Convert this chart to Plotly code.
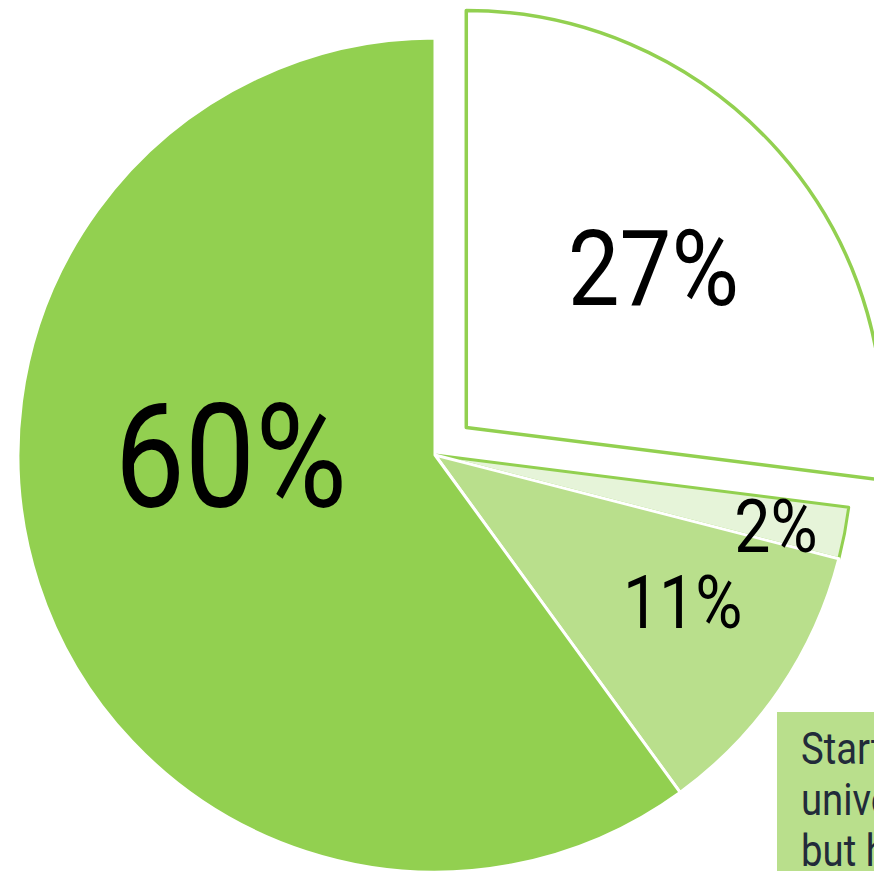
import numpy as np
import plotly.graph_objects as go

# Shares of respondents, clockwise from 12 o'clock
categories = [
    "Finished university",
    "Still studying",
    "Started university but haven't finished",
    "Never started university",
]
shares = [27, 2, 11, 60]

# Callout text for the light-green group
callout_lines = ["Started", "university", "but haven't finished"]

GREEN = "#92D050"
LIGHT = "#B9DF8C"
PALE = "#E6F4D9"
CLEAR = "rgba(0,0,0,0)"

# Canvas geometry (pixels, origin top-left)
W, H = 1000, 1000
cx, cy, R = 435, 455, 417
pull = 0.1


def px_domain(x_c, y_c):
    return dict(x=[(x_c - R) / W, (x_c + R) / W],
                y=[1 - (y_c + R) / H, 1 - (y_c - R) / H])


def px_to_paper(x, y):
    return x / W, 1 - y / H


total = float(sum(shares))
starts = np.concatenate([[0], np.cumsum(shares)[:-1]]) / total * 360.0
mids = starts + np.array(shares) / total * 180.0

# Offset of the exploded first slice along its bisector
th = np.radians(mids[0])
pcx = cx + pull * R * np.sin(th)
pcy = cy - pull * R * np.cos(th)

fig = go.Figure()

# Body of the pie (first slice left empty; it is drawn exploded below)
fig.add_trace(go.Pie(
    labels=categories, values=shares, sort=False,
    direction="clockwise", rotation=0,
    marker=dict(colors=[CLEAR, PALE, LIGHT, GREEN],
                line=dict(color=[CLEAR, GREEN, "white", "white"],
                          width=[0, 3, 3, 3])),
    textinfo="none", hoverinfo="label+percent",
    domain=px_domain(cx, cy), showlegend=False,
))

# Exploded slice
fig.add_trace(go.Pie(
    labels=categories, values=shares, sort=False,
    direction="clockwise", rotation=0,
    marker=dict(colors=["white", CLEAR, CLEAR, CLEAR],
                line=dict(color=[GREEN, CLEAR, CLEAR, CLEAR],
                          width=[3.5, 0, 0, 0])),
    textinfo="none", hoverinfo="label+percent",
    domain=px_domain(pcx, pcy), showlegend=False,
))

# Percentage labels: (angle shift from slice bisector, radius fraction, font size)
label_style = [(0.8, 0.59, 106), (0.8, 0.835, 74), (-3.7, 0.69, 74), (18.0, 0.49, 144)]
centres = [(pcx, pcy), (cx, cy), (cx, cy), (cx, cy)]
FONT = "Roboto, sans-serif"

for v, m, (shift, rf, fs), (ox, oy) in zip(shares, mids, label_style, centres):
    a = np.radians(m + shift)
    lx = ox + rf * R * np.sin(a)
    ly = oy - rf * R * np.cos(a)
    x, y = px_to_paper(lx, ly + fs * 0.02)
    fig.add_annotation(x=x, y=y, xref="paper", yref="paper",
                       text=f"{v}%", showarrow=False,
                       xanchor="center", yanchor="middle",
                       font=dict(family=FONT, size=fs, color="black"))

# Callout box
bx0, by0 = px_to_paper(777, 712)
fig.add_shape(type="rect", xref="paper", yref="paper",
              x0=bx0, y0=by0, x1=1, y1=0,
              fillcolor=LIGHT, line=dict(width=0), layer="below")

for i, line in enumerate(callout_lines):
    x, y = px_to_paper(799, 749 + i * 51)
    fig.add_annotation(x=x, y=y, xref="paper", yref="paper",
                       text=line, showarrow=False,
                       xanchor="left", yanchor="middle",
                       font=dict(family=FONT, size=44, color="#222B3A"))

fig.update_layout(
    width=W, height=H,
    margin=dict(l=0, r=0, t=0, b=0),
    paper_bgcolor="white", plot_bgcolor="white",
)

# Narrow the annotation lettering (condensed look), keeping each text's anchor fixed
condense_js = """
document.documentElement.style.overflow='hidden';
document.body.style.overflow='hidden';
document.body.style.margin='0';
var gd = document.getElementsByClassName('plotly-graph-div')[0];
var anns = gd.layout.annotations || [];
var k = 0.87;
document.querySelectorAll('g.annotation').forEach(function (g) {
    var idx = parseInt(g.getAttribute('data-index'), 10);
    var el = g.querySelector('text.annotation-text');
    if (!el) { return; }
    var b = el.getBBox();
    var left = anns[idx] && anns[idx].xanchor === 'left';
    var ax = left ? b.x : b.x + b.width / 2;
    el.setAttribute('transform',
        'translate(' + ax + ',0) scale(' + k + ',1) translate(' + (-ax) + ',0)');
});
"""

fig.write_html("out.html", post_script=condense_js)
